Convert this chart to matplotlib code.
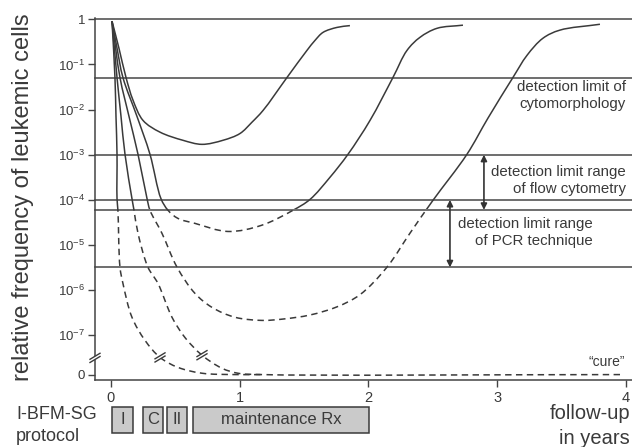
import numpy as np
import matplotlib
matplotlib.use("Agg")
import matplotlib.pyplot as plt
from matplotlib.patches import Rectangle, Polygon, PathPatch
from matplotlib.path import Path
import matplotlib.transforms as mtransforms

plt.rcParams['font.family'] = ['Liberation Sans', 'DejaVu Sans']
plt.rcParams['mathtext.fontset'] = 'custom'
plt.rcParams['mathtext.rm'] = 'Liberation Sans'
plt.rcParams['mathtext.it'] = 'Liberation Sans:italic'

# ---------------- data (log10 of relative frequency; ZERO = position of "0" on broken axis)
ZERO = -7.87
BREAK_Y = -7.5

years_a = [0.008, 0.062, 0.117, 0.171, 0.249, 0.381, 0.559, 0.707, 0.870, 1.002, 1.095, 1.181, 1.367, 1.522, 1.584, 1.647, 1.755, 1.856]
log_a = [-0.04, -0.64, -1.29, -1.79, -2.24, -2.50, -2.68, -2.77, -2.68, -2.53, -2.28, -2.02, -1.29, -0.69, -0.47, -0.29, -0.18, -0.14]

years_b = [0.008, 0.047, 0.093, 0.202, 0.303, 0.388, 0.443, 0.520, 0.652, 0.909, 1.173, 1.414, 1.546, 1.701, 1.841, 2.012, 2.190, 2.299, 2.400, 2.532, 2.734]
log_b = [-0.04, -0.64, -1.29, -2.15, -2.99, -3.97, -4.23, -4.41, -4.52, -4.70, -4.56, -4.23, -3.99, -3.50, -2.99, -2.24, -1.29, -0.69, -0.40, -0.20, -0.13]

years_c = [0.008, 0.070, 0.140, 0.210, 0.280, 0.303, 0.396, 0.513, 0.652, 0.784, 0.963, 1.173, 1.336, 1.546, 1.755, 1.934, 2.144, 2.322, 2.501, 2.765, 2.928, 3.122, 3.231, 3.355, 3.487, 3.798]
log_c = [-0.04, -1.29, -2.15, -2.99, -3.97, -4.23, -4.74, -5.49, -6.07, -6.38, -6.60, -6.67, -6.64, -6.55, -6.37, -6.10, -5.49, -4.74, -4.01, -2.99, -2.19, -1.29, -0.80, -0.42, -0.24, -0.11]

years_d = [0.008, 0.047, 0.078, 0.109, 0.163, 0.179, 0.210, 0.287, 0.365, 0.474, 0.575, 0.707, 0.862, 0.986, 1.173, 3.98]
log_d = [-0.04, -1.29, -2.15, -2.99, -3.97, -4.23, -4.74, -5.49, -5.85, -6.60, -7.05, -7.44, -7.73, -7.84, ZERO, ZERO]

years_e = [0.008, 0.031, 0.039, 0.047, 0.047, 0.054, 0.070, 0.093, 0.163, 0.264, 0.381, 0.520, 0.707, 0.963, 1.17]
log_e = [-0.04, -1.29, -2.15, -2.99, -3.97, -4.23, -5.49, -5.85, -6.60, -7.11, -7.49, -7.71, -7.84, -7.87, ZERO]

curve_breaks = [(0.381, -7.49), (0.707, -7.44)]

level_top = 0.0
level_cyto = np.log10(5e-2)
level_flow_hi = -3.0
level_flow_lo = -4.0
level_pcr_hi = np.log10(6e-5)
level_pcr_lo = np.log10(3.2e-6)

ytick_pos = [0, -1, -2, -3, -4, -5, -6, -7, ZERO]
ytick_labels = ['1'] + [r'$\mathregular{10^{-%d}}$' % k for k in range(1, 8)] + ['0']
xtick_pos = [0, 1, 2, 3, 4]

phase_names = ['I', 'C', 'II', 'maintenance Rx']
phase_start = [0.008, 0.249, 0.435, 0.637]
phase_end = [0.171, 0.404, 0.590, 2.004]

DASH_LIMIT = -4.2

# ---------------- figure
LC = '#3a3a3a'
HC = '#555555'
TC = '#3a3a3a'

fig = plt.figure(figsize=(6.32, 4.47), dpi=100)
ax = fig.add_axes([95/632, (447-380)/447, 537/632, 361.6/447])
ax.set_xlim(-0.124, 4.047)
ax.set_ylim(-7.99, 0.02)

for sp in ['top', 'right']:
    ax.spines[sp].set_visible(False)
for sp in ['left', 'bottom']:
    ax.spines[sp].set_color('#444444')
    ax.spines[sp].set_linewidth(1.1)

# horizontal detection lines
for lv in [level_top, level_cyto, level_flow_hi, level_flow_lo, level_pcr_hi, level_pcr_lo]:
    ax.axhline(lv, color=HC, lw=1.2, zorder=2, clip_on=False)


def smooth_path(xs, ys):
    """Centripetal Catmull-Rom through the read points, drawn as cubic Bezier path."""
    sx, sy = 128.75, 45.14
    P = np.column_stack([np.asarray(xs, float) * sx, np.asarray(ys, float) * sy])
    n = len(P)
    ext = np.vstack([2 * P[0] - P[1], P, 2 * P[-1] - P[-2]])
    verts = [P[0]]
    codes = [Path.MOVETO]
    for i in range(n - 1):
        p0, p1, p2, p3 = ext[i], ext[i + 1], ext[i + 2], ext[i + 3]
        d1 = max(np.linalg.norm(p1 - p0) ** 0.5, 1e-6)
        d2 = max(np.linalg.norm(p2 - p1) ** 0.5, 1e-6)
        d3 = max(np.linalg.norm(p3 - p2) ** 0.5, 1e-6)
        b1 = (d1**2 * p2 - d2**2 * p0 + (2*d1**2 + 3*d1*d2 + d2**2) * p1) / (3*d1*(d1 + d2))
        b2 = (d3**2 * p1 - d2**2 * p3 + (2*d3**2 + 3*d3*d2 + d2**2) * p2) / (3*d3*(d3 + d2))
        verts += [b1, b2, p2]
        codes += [Path.CURVE4] * 3
    V = np.array(verts)
    V[:, 0] /= sx
    V[:, 1] /= sy
    return Path(V, codes)


# curves, solid above limit and dashed below
xl = ax.get_xlim()
for xs, ys in [(years_a, log_a), (years_b, log_b), (years_c, log_c), (years_d, log_d), (years_e, log_e)]:
    path = smooth_path(xs, ys)
    p1 = PathPatch(path, fill=False, edgecolor=LC, lw=1.1, zorder=3, capstyle='butt',
                   transform=ax.transData)
    ax.add_patch(p1)
    p1.set_clip_path(Rectangle((xl[0], DASH_LIMIT), xl[1]-xl[0], 10, transform=ax.transData))
    p2 = PathPatch(path, fill=False, edgecolor=LC, lw=1.1, zorder=3, linestyle=(0, (4.2, 2.9)),
                   capstyle='butt', transform=ax.transData)
    ax.add_patch(p2)
    p2.set_clip_path(Rectangle((xl[0], DASH_LIMIT-10), xl[1]-xl[0], 10, transform=ax.transData))


def break_mark(x, y):
    tr = fig.dpi_scale_trans + mtransforms.ScaledTranslation(x, y, ax.transData)
    w = 0.05
    s = 0.6
    g = 0.016
    poly = Polygon([(-w, -w*s - g), (w, w*s - g), (w, w*s + g), (-w, -w*s + g)],
                   closed=True, facecolor='white', edgecolor='none', transform=tr,
                   clip_on=False, zorder=6)
    ax.add_patch(poly)
    for off in (-g, g):
        ax.plot([-w, w], [-w*s + off, w*s + off], color=LC, lw=1.0, transform=tr,
                clip_on=False, zorder=7)


break_mark(xl[0], BREAK_Y)
for bx, by in curve_breaks:
    break_mark(bx, by)

# ticks
ax.set_yticks(ytick_pos)
ax.set_yticklabels(ytick_labels)
ax.set_xticks(xtick_pos)
ax.tick_params(axis='y', direction='out', length=5, width=1.0, colors='#444444',
               labelsize=9.5, labelcolor=TC, pad=2)
ax.tick_params(axis='x', direction='out', length=5, width=1.0, colors='#444444',
               labelsize=10.5, labelcolor=TC, pad=3)

# annotations
ax.text(4.0, -1.68, 'detection limit of\ncytomorphology', ha='right', va='center',
        multialignment='right', fontsize=10.8, color=TC, linespacing=1.25)
ax.text(4.0, -3.57, 'detection limit range\nof flow cytometry', ha='right', va='center',
        multialignment='right', fontsize=10.8, color=TC, linespacing=1.25)
ax.text(3.744, -4.72, 'detection limit range\nof PCR technique', ha='right', va='center',
        multialignment='right', fontsize=10.8, color=TC, linespacing=1.25)
ax.text(3.992, -7.60, '\u201ccure\u201d', ha='right', va='center', fontsize=10, color=TC)

arrow_kw = dict(arrowstyle='<|-|>', mutation_scale=9, lw=1.2, color='#333333',
                shrinkA=0, shrinkB=0)
ax.annotate('', xy=(2.897, level_flow_hi), xytext=(2.897, level_pcr_hi), arrowprops=arrow_kw)
ax.annotate('', xy=(2.633, level_flow_lo), xytext=(2.633, level_pcr_lo), arrowprops=arrow_kw)

# protocol boxes
btr = mtransforms.blended_transform_factory(ax.transData, ax.transAxes)
ytop_ax = (380 - 407) / 361.6
ybot_ax = (380 - 433) / 361.6
for nm, s0, s1 in zip(phase_names, phase_start, phase_end):
    ax.add_patch(Rectangle((s0, ybot_ax), s1 - s0, ytop_ax - ybot_ax, transform=btr,
                           facecolor='#cacaca', edgecolor='#3a3a3a', lw=1.1, clip_on=False))
    ax.text((s0 + s1) / 2, (ytop_ax + ybot_ax) / 2, nm, transform=btr, ha='center',
            va='center', fontsize=12, color=TC, clip_on=False)

fig.text(23/632, 1 - 197/447, 'relative frequency of leukemic cells', rotation=90,
         ha='center', va='center', fontsize=17, color=TC)
fig.text(16/632, 1 - 406/447, 'I-BFM-SG\nprotocol', ha='left', va='top', fontsize=13,
         color=TC, linespacing=1.35)
fig.text(630/632, 1 - 404/447, 'follow-up\nin years', ha='right', va='top', fontsize=14.5,
         color=TC, linespacing=1.42, multialignment='right')

fig.savefig('out.png', dpi=100)
